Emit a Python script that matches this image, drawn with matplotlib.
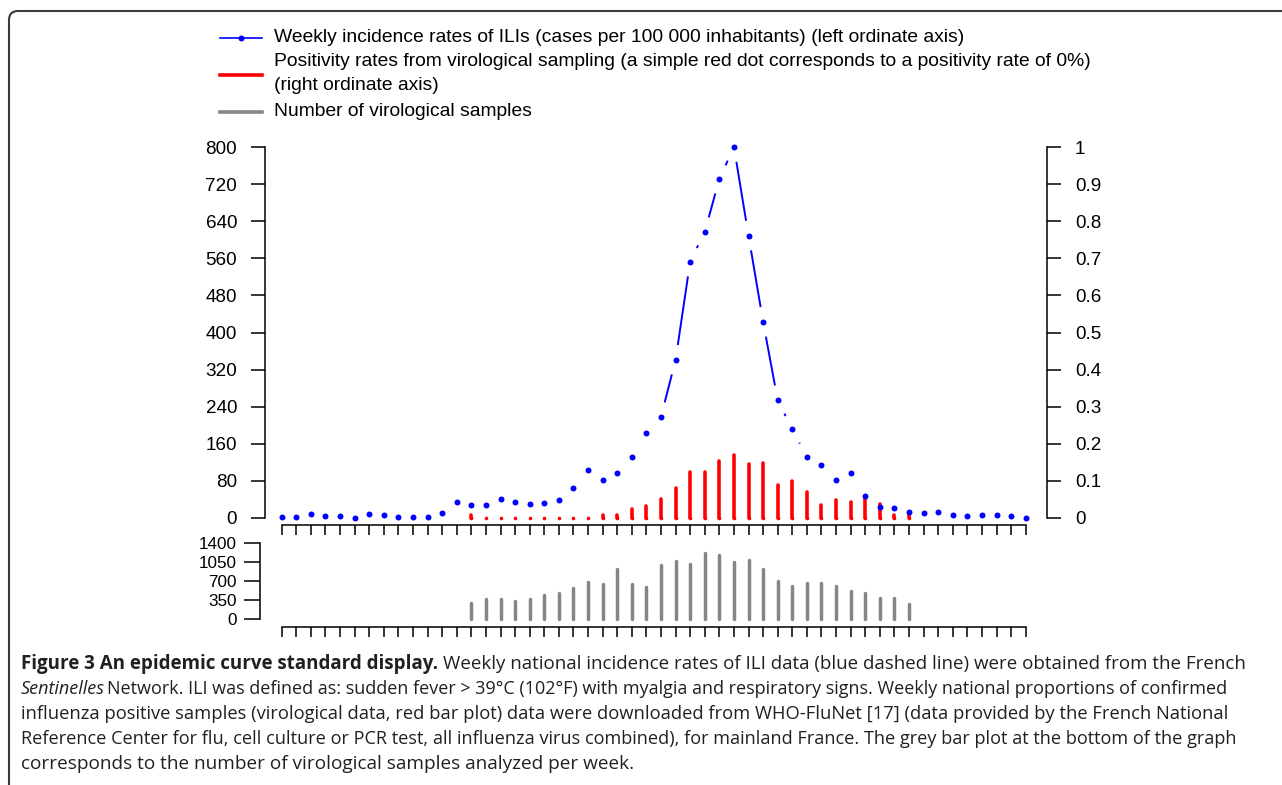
import numpy as np
import matplotlib
matplotlib.use("Agg")
import matplotlib.pyplot as plt
from matplotlib.lines import Line2D
from matplotlib.collections import LineCollection
from matplotlib.patches import FancyBboxPatch

plt.rcParams['font.family'] = ['Liberation Sans', 'DejaVu Sans']

# ---------------- data ----------------
weeks = np.arange(52)
ili = [3, 3, 8, 5, 4, 0, 9, 6, 3, 3, 3, 10, 34, 29, 27, 42, 34, 30, 32, 39,
       65, 103, 83, 96, 132, 184, 218, 341, 553, 617, 731, 800, 609, 423, 254, 191,
       132, 114, 83, 96, 48, 24, 22, 12, 10, 14, 7, 4, 6.5, 6.5, 4, 1]
nan = np.nan
positivity = [nan] * 13 + [0.007, 0, 0, 0, 0, 0, 0, 0, 0,
                           0.007, 0.009, 0.024, 0.031, 0.051, 0.082, 0.123, 0.125, 0.154,
                           0.169, 0.146, 0.149, 0.089, 0.100, 0.070, 0.036, 0.049, 0.042,
                           0.053, 0.038, 0.009, 0.009] + [nan] * 8
samples = [nan] * 13 + [291, 372, 372, 335, 372, 433, 470, 562, 678, 648, 917, 641, 586,
                        991, 1077, 1009, 1219, 1188, 1053, 1083, 930, 691, 611, 672, 654,
                        599, 519, 482, 378, 390, 273] + [nan] * 8
left_ticks = [0, 80, 160, 240, 320, 400, 480, 560, 640, 720, 800]
right_ticks = [0, 0.1, 0.2, 0.3, 0.4, 0.5, 0.6, 0.7, 0.8, 0.9, 1]
right_labels = ['0', '0.1', '0.2', '0.3', '0.4', '0.5', '0.6', '0.7', '0.8', '0.9', '1']
bottom_ticks = [0, 350, 700, 1050, 1400]

legend_labels = ["Weekly incidence rates of ILIs (cases per 100 000 inhabitants) (left ordinate axis)",
                 "Positivity rates from virological sampling (a simple red dot corresponds to a positivity rate of 0%)",
                 "(right ordinate axis)",
                 "Number of virological samples"]

caption_lines = [
    [("Figure 3 An epidemic curve standard display.", dict(weight='bold')),
     ("Weekly national incidence rates of ILI data (blue dashed line) were obtained from the French", {})],
    [("Sentinelles", dict(style='italic')),
     ("Network. ILI was defined as: sudden fever > 39\u00b0C (102\u00b0F) with myalgia and respiratory signs. Weekly national proportions of confirmed", {})],
    [("influenza positive samples (virological data, red bar plot) data were downloaded from WHO-FluNet [17] (data provided by the French National", {})],
    [("Reference Center for flu, cell culture or PCR test, all influenza virus combined), for mainland France. The grey bar plot at the bottom of the graph", {})],
    [("corresponds to the number of virological samples analyzed per week.", {})],
]

# ---------------- figure ----------------
W, H = 1282, 785
fig = plt.figure(figsize=(W / 100, H / 100), dpi=100)

def px_axes(x0, x1, ytop, ybot):
    return fig.add_axes([x0 / W, (H - ybot) / H, (x1 - x0) / W, (ybot - ytop) / H])

# overlay for frame, legend, caption (pixel coordinates)
axo = px_axes(0, W, 0, H)
axo.set_xlim(0, W)
axo.set_ylim(H, 0)
axo.axis('off')

# x mapping: index 0 at 281.7px, index 51 at 1025.7px
x0px, dx = 281.7, (1025.7 - 281.7) / 51.0
def xl(p):
    return (p - x0px) / dx

# top axes
ax_l, ax_r, ax_top, ax_bot = 265, 1047, 138, 525
ax1 = px_axes(ax_l, ax_r, ax_top, ax_bot)
ax1.set_xlim(xl(ax_l), xl(ax_r))
ypx = (518 - 147) / 800.0
ax1.set_ylim(-(ax_bot - 518) / ypx, (518 - ax_top) / ypx)
ax2 = ax1.twinx()
lo, hi = ax1.get_ylim()
ax2.set_ylim(lo / 800.0, hi / 800.0)
ax1.set_zorder(ax2.get_zorder() + 1)
ax1.patch.set_visible(False)

for sp in ['top', 'right']:
    ax1.spines[sp].set_visible(False)
for sp in ['top', 'left', 'bottom']:
    ax2.spines[sp].set_visible(False)
ax1.spines['left'].set_bounds(0, 800)
ax1.spines['bottom'].set_bounds(0, 51)
ax2.spines['right'].set_bounds(0, 1)
for s in [ax1.spines['left'], ax1.spines['bottom'], ax2.spines['right']]:
    s.set_linewidth(1.1)

ax1.set_yticks(left_ticks)
ax1.set_xticks(weeks)
ax1.set_xticklabels([])
ax2.set_yticks(right_ticks)
ax2.set_yticklabels(right_labels)
ax1.tick_params(axis='y', length=10, width=1.1, labelsize=13.6, pad=10)
ax1.tick_params(axis='x', length=7.5, width=1.1)
ax2.tick_params(axis='y', length=10, width=1.1, labelsize=13.6, pad=10)

# red positivity bars
pos = np.array(positivity, dtype=float)
valid = ~np.isnan(pos)
ax2.vlines(weeks[valid], 0, pos[valid], colors='#ff0000', linewidth=2.6, capstyle='round')
ax2.plot(weeks[valid], np.zeros(valid.sum()), 'o', color='#ff0000', markersize=2.6,
         markeredgewidth=0)

# blue ILI: points + line segments with gaps (R type="b")
ili_arr = np.array(ili, dtype=float)
ax1.plot(weeks, ili_arr, 'o', color='#0000ff', markersize=4.3, markeredgewidth=0,
         clip_on=False, zorder=5)
gap = 15.0
pts = ax1.transData.transform(np.column_stack([weeks, ili_arr]))
inv = ax1.transData.inverted()
segs = []
for p0, p1 in zip(pts[:-1], pts[1:]):
    d = p1 - p0
    L = np.hypot(d[0], d[1])
    if L > 2 * gap:
        u = d / L
        segs.append(inv.transform(np.array([p0 + u * gap, p1 - u * gap])))
ax1.add_collection(LineCollection(segs, colors='#0000ff', linewidths=1.4, zorder=4))

# bottom axes (samples)
b_l, b_r, b_top, b_bot = 260, 1047, 538, 627.3
ax3 = px_axes(b_l, b_r, b_top, b_bot)
ax3.set_xlim(xl(b_l), xl(b_r))
bpx = (619 - 543) / 1400.0
ax3.set_ylim(-(b_bot - 619) / bpx, (619 - b_top) / bpx)
ax3.patch.set_visible(False)
for sp in ['top', 'right']:
    ax3.spines[sp].set_visible(False)
ax3.spines['left'].set_bounds(0, 1400)
ax3.spines['bottom'].set_bounds(0, 51)
ax3.spines['left'].set_linewidth(1.1)
ax3.spines['bottom'].set_linewidth(1.1)
ax3.set_yticks(bottom_ticks)
ax3.set_xticks(weeks)
ax3.set_xticklabels([])
ax3.tick_params(axis='y', length=11.5, width=1.1, labelsize=12.3, pad=5)
ax3.tick_params(axis='x', length=7.5, width=1.1)
smp = np.array(samples, dtype=float)
sv = ~np.isnan(smp)
ax3.vlines(weeks[sv], 0, smp[sv], colors='#858585', linewidth=2.5, capstyle='round')

# ---------------- legend ----------------
lx0, lx1, tx = 220, 262, 274
axo.add_line(Line2D([lx0, lx1], [38, 38], color='#0000ff', lw=1.2))
axo.plot([(lx0 + lx1) / 2], [38], 'o', color='#0000ff', markersize=4.3, markeredgewidth=0)
axo.add_line(Line2D([lx0, lx1], [75, 75], color='#ff0000', lw=2.6))
axo.add_line(Line2D([lx0, lx1], [112, 112], color='#858585', lw=2.6))
leg_size = 13.9
for lab, y in zip(legend_labels, [38, 62, 86, 112]):
    axo.text(tx, y, lab, fontsize=leg_size, va='center', ha='left')

# ---------------- frame ----------------
frame = FancyBboxPatch((9, 11), 1500, 1000, boxstyle='round,pad=0,rounding_size=9',
                       fill=False, edgecolor='#3a3a3a', linewidth=1.5)
axo.add_patch(frame)

# ---------------- caption ----------------
renderer = fig.canvas.get_renderer()
cap_font = ['Open Sans', 'DejaVu Sans']
cap_col = '#231f20'
cap_lines_y = [664, 689, 714, 739, 764]
cap_line_ends = [1248, 1237, 1233, 1240, 636]
base_size = 13.4
cx = 21

def draw_line(parts, y, size):
    x = cx
    arts = []
    prev_italic = False
    for i, (s, kw) in enumerate(parts):
        if i > 0:
            x += size * (0.18 if prev_italic else 0.36)
        t = axo.text(x, y, s, fontsize=size, family=cap_font, color=cap_col,
                     va='center', ha='left', **kw)
        arts.append(t)
        x += t.get_window_extent(renderer).width
        prev_italic = kw.get('style') == 'italic'
    return arts, x

for parts, y, xend in zip(caption_lines, cap_lines_y, cap_line_ends):
    arts, xe = draw_line(parts, y, base_size)
    size = base_size * (xend - cx) / (xe - cx)
    size = min(max(size, base_size * 0.94), base_size * 1.06)
    for a in arts:
        a.remove()
    draw_line(parts, y, size)

fig.savefig("out.png", dpi=100)
